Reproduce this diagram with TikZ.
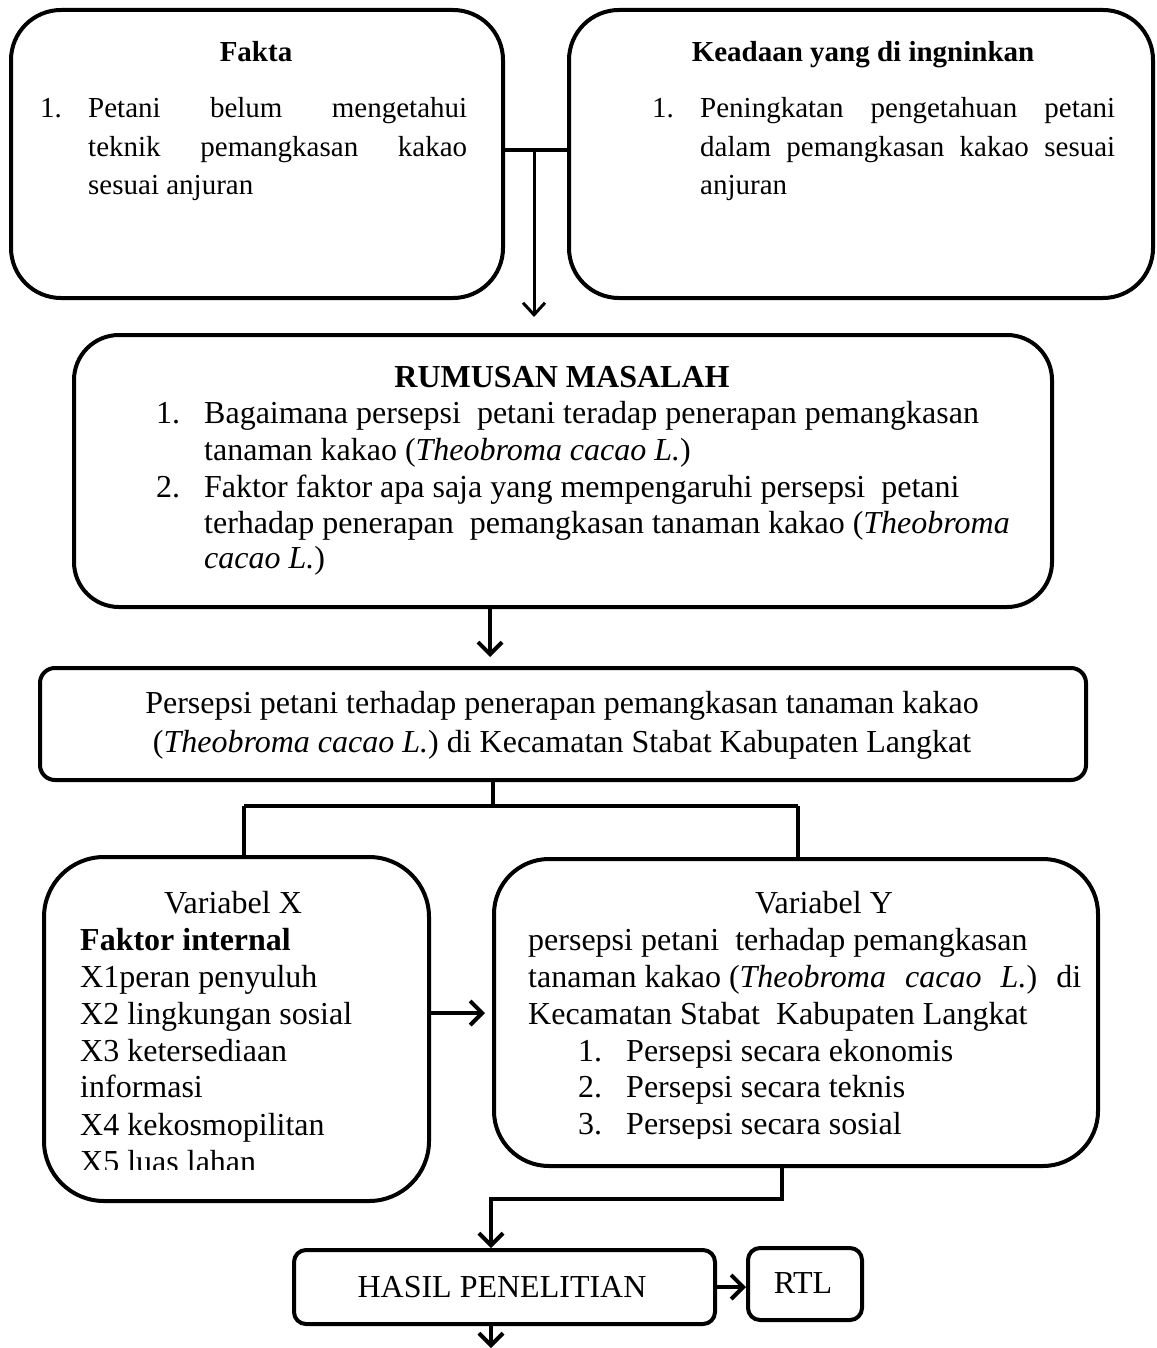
\documentclass[tikz,border=0pt]{standalone}
\usepackage{fontspec}
\setmainfont{Liberation Serif}
\usetikzlibrary{arrows.meta}
\tikzset{
  box/.style={draw, line width=4pt, inner sep=0pt, anchor=north west, fill=white},
  conn/.style={line width=4pt},
  arr/.style={line width=4pt, -{Straight Barb[length=12pt,width=24pt]}},
  thinarr/.style={line width=3pt, -{Straight Barb[length=12pt,width=22pt]}},
  tl/.style={anchor=base west, inner sep=0pt},
  tc/.style={anchor=base, inner sep=0pt},
  fa/.style={font=\fontsize{29}{35}\selectfont},
  fb/.style={font=\fontsize{32}{38}\selectfont},
  fc/.style={font=\fontsize{32}{38}\selectfont},
}
\begin{document}
\begin{tikzpicture}[x=1pt,y=-1pt]
\useasboundingbox (0,0) rectangle (1156,1348);
% boxes
\node[box, rounded corners=50pt, minimum width=492pt, minimum height=288pt] (fakta) at (9,8) {};
\node[box, rounded corners=50pt, minimum width=584pt, minimum height=288pt] (keadaan) at (567,8) {};
\node[box, rounded corners=45pt, minimum width=978pt, minimum height=272pt] (rumusan) at (72,333) {};
\node[box, rounded corners=15pt, minimum width=1046pt, minimum height=112pt] (persepsi) at (38,666) {};
\node[box, rounded corners=60pt, minimum width=385pt, minimum height=344pt] (varx) at (42,855) {};
\node[box, rounded corners=55pt, minimum width=604pt, minimum height=307pt] (vary) at (492,857) {};
\node[box, rounded corners=12pt, minimum width=421pt, minimum height=74pt] (hasil) at (292,1248) {};
\node[box, rounded corners=12pt, minimum width=114pt, minimum height=72pt] (rtl) at (746,1246) {};

% connector points
\coordinate (h0) at (0,150);
\coordinate (j1) at (534,150);
\coordinate (a1) at (534,317);
\coordinate (c2) at (490,0);
\coordinate (a2) at (490,657);
\coordinate (j2) at (493,806);
\coordinate (bl) at (244,806);
\coordinate (br) at (798,806);
\coordinate (hx) at (0,1013);
\coordinate (a3) at (485,1013);
\coordinate (j3) at (782,1199);
\coordinate (j4) at (491,1199);
\coordinate (hr) at (0,1287);
\coordinate (bot) at (491,1348);

% connectors
\draw[conn] (fakta.east |- h0) -- (keadaan.west |- h0);
\draw[thinarr] (j1) -- (a1);
\draw[arr] (rumusan.south -| c2) -- (a2);
\draw[conn] (persepsi.south -| j2) -- (j2);
\draw[conn] (bl) -- (br);
\draw[conn] (bl) -- (varx.north -| bl);
\draw[conn] (br) -- (vary.north -| br);
\draw[arr] (varx.east |- hx) -- (a3);
\draw[arr] (vary.south -| j3) -- (j3) -- (j4) -- (j4 |- hasil.north);
\draw[arr] (hasil.east |- hr) -- (rtl.west |- hr);
\draw[arr] (hasil.south -| bot) -- (bot);

% Fakta text
\node[tc, fa] (t1) at (256,62) {\textbf{Fakta}};
\node[tl, fa] (t2) at (40,118) {1.};
\node[tl, fa] (t3) at (88,118) {\hbox to 379pt{Petani\hfill belum\hfill mengetahui}};
\node[tl, fa] (t4) at (88,157) {\hbox to 379pt{teknik\hfill pemangkasan\hfill kakao}};
\node[tl, fa] (t5) at (88,195) {sesuai anjuran};
% Keadaan text
\node[tc, fa] (k1) at (863,62) {\textbf{Keadaan yang di ingninkan}};
\node[tl, fa] (k2) at (652,118) {1.};
\node[tl, fa] (k3) at (700,118) {\hbox to 415pt{Peningkatan\hfill pengetahuan\hfill petani}};
\node[tl, fa] (k4) at (700,157) {\hbox to 415pt{dalam\hfill pemangkasan\hfill kakao\hfill sesuai}};
\node[tl, fa] (k5) at (700,195) {anjuran};
% Rumusan text
\node[tc, font=\fontsize{32}{38}\selectfont] (r0) at (562,387) {\textbf{RUMUSAN MASALAH}};
\node[tl, fb] (r1) at (156,423) {1.};
\node[tl, fb] (r2) at (204,423) {Bagaimana persepsi\ \ petani teradap penerapan pemangkasan};
\node[tl, fb] (r3) at (204,460) {tanaman kakao (\textit{Theobroma cacao L.})};
\node[tl, fb] (r4) at (156,497) {2.};
\node[tl, fb] (r5) at (204,497) {Faktor faktor apa saja yang mempengaruhi persepsi\ \ petani};
\node[tl, fb] (r6) at (204,533) {terhadap penerapan\ \ pemangkasan tanaman kakao (\textit{Theobroma}};
\node[tl, fb] (r7) at (204,568) {\textit{cacao L.})};
% Persepsi text
\node[tc, fb] (p1) at (562,713) {Persepsi petani terhadap penerapan pemangkasan tanaman kakao};
\node[tc, fb] (p2) at (562,752) {(\textit{Theobroma cacao L.}) di Kecamatan Stabat Kabupaten Langkat};
% Variabel X text
\begin{scope}
\clip (0,850) rectangle (430,1169);
\node[tc, fc] (x0) at (233,913) {Variabel X};
\node[tl, fc] (x1) at (80,950) {\textbf{Faktor internal}};
\node[tl, fc] (x2) at (80,987) {X1peran penyuluh};
\node[tl, fc] (x3) at (80,1024) {X2 lingkungan sosial};
\node[tl, fc] (x4) at (80,1061) {X3 ketersediaan};
\node[tl, fc] (x5) at (80,1097) {informasi};
\node[tl, fc] (x6) at (80,1135) {X4 kekosmopilitan};
\node[tl, fc] (x7) at (80,1172) {X5 luas lahan};
\end{scope}
% Variabel Y text
\begin{scope}
\clip (495,860) rectangle (1090,1138);
\node[tc, fc] (y0) at (824,913) {Variabel Y};
\node[tl, fc] (y1) at (528,950) {persepsi petani\ \ terhadap pemangkasan};
\node[tl, fc] (y2) at (528,987) {\hbox to 553pt{tanaman kakao (\textit{Theobroma}\hfill\textit{cacao}\hfill\textit{L.})\hfill di}};
\node[tl, fc] (y3) at (528,1024) {Kecamatan Stabat\ \ Kabupaten Langkat};
\node[tl, fc] (y4) at (578,1061) {1.};
\node[tl, fc] (y5) at (626,1061) {Persepsi secara ekonomis};
\node[tl, fc] (y6) at (578,1097) {2.};
\node[tl, fc] (y7) at (626,1097) {Persepsi secara teknis};
\node[tl, fc] (y8) at (578,1134) {3.};
\node[tl, fc] (y9) at (626,1134) {Persepsi secara sosial};
\end{scope}
% Hasil / RTL
\node[tc, fc] (h1) at (502,1297) {HASIL PENELITIAN};
\node[tc, fc] (h2) at (803,1293) {RTL};
\end{tikzpicture}
\end{document}
